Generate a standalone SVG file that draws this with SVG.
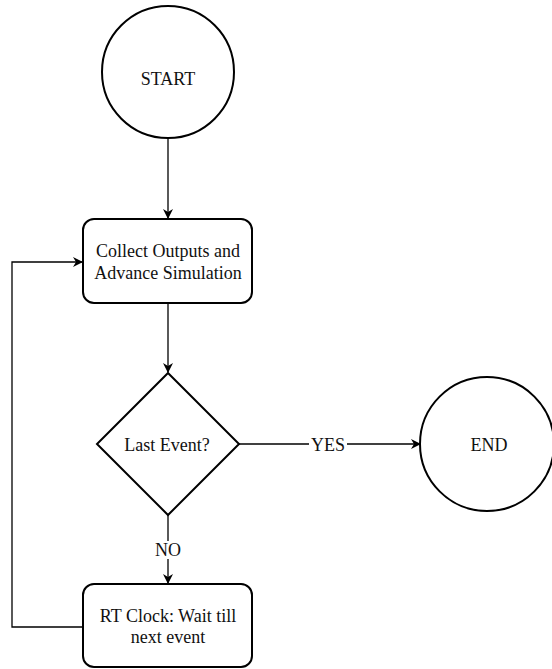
<svg xmlns="http://www.w3.org/2000/svg" width="552" height="669" viewBox="0 0 552 669">
<style>
.shape{fill:#fff;stroke:#000;stroke-width:2}
.edge{fill:none;stroke:#000;stroke-width:1.3}
.t{font-family:'Liberation Serif','DejaVu Serif',serif;font-size:18px;fill:#111;text-anchor:middle}
.lbl{fill:#fff}
</style>
<defs>
<marker id="arr" viewBox="0 0 10 10" refX="9" refY="5" markerWidth="10" markerHeight="10" markerUnits="userSpaceOnUse" orient="auto">
<path d="M0,0 L10,5 L0,10 L3,5 Z" fill="#000"/>
</marker>
</defs>
<rect width="552" height="669" fill="#fff"/>
<g id="connectors">
<line class="edge" x1="168" y1="138" x2="168" y2="218" marker-end="url(#arr)"/>
<line class="edge" x1="168" y1="303" x2="168" y2="372" marker-end="url(#arr)"/>
<line class="edge" x1="239" y1="444" x2="420" y2="444" marker-end="url(#arr)"/>
<rect class="lbl" x="309" y="435" width="38" height="18"/>
<text class="t" x="328" y="451">YES</text>
<line class="edge" x1="168" y1="515" x2="168" y2="583" marker-end="url(#arr)"/>
<rect class="lbl" x="153" y="541" width="30" height="18"/>
<text class="t" x="168" y="556">NO</text>
<polyline class="edge" points="83,627 12,627 12,262 82,262" marker-end="url(#arr)"/>
</g>
<g id="start">
<circle class="shape" cx="168" cy="72" r="66"/>
<text class="t" x="168" y="85">START</text>
</g>
<g id="collect">
<rect class="shape" x="83" y="219" width="169" height="84" rx="11"/>
<text class="t" x="168" y="257">Collect Outputs and</text>
<text class="t" x="168" y="279">Advance Simulation</text>
</g>
<g id="decision">
<polygon class="shape" points="168,373 239,444 168,515 97,444"/>
<text class="t" x="167" y="451">Last Event?</text>
</g>
<g id="end">
<circle class="shape" cx="487" cy="444" r="67"/>
<text class="t" x="489" y="451">END</text>
</g>
<g id="wait">
<rect class="shape" x="83" y="584" width="169" height="83" rx="11"/>
<text class="t" x="168" y="622">RT Clock: Wait till</text>
<text class="t" x="168" y="643">next event</text>
</g>
</svg>
